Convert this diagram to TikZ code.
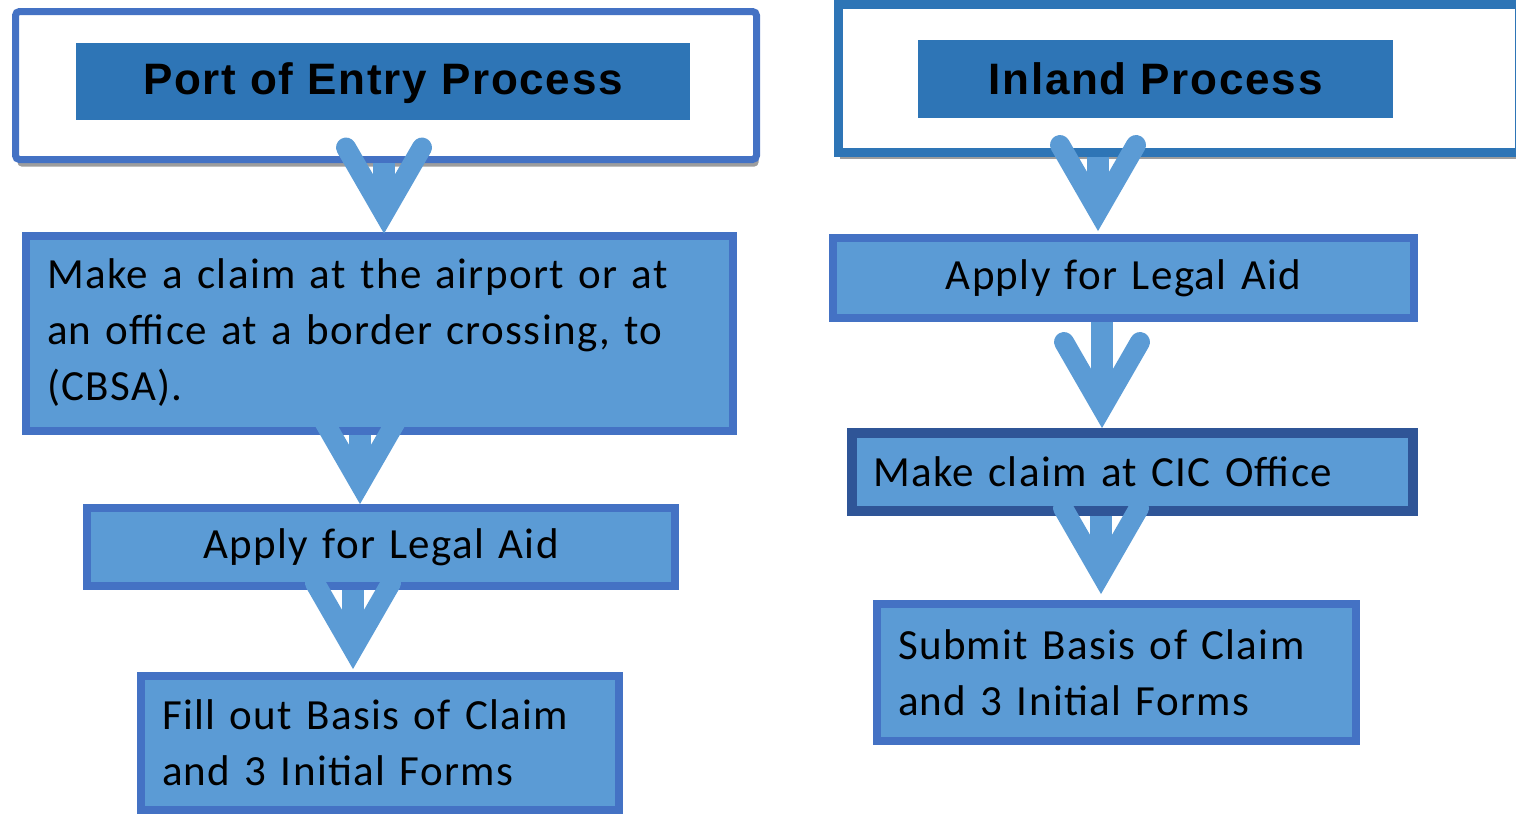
\documentclass[tikz,border=0pt]{standalone}
\usepackage{fontspec}
\setmainfont{Carlito}[LetterSpace=3.2]
\newfontfamily\titlefont{Liberation Sans}[LetterSpace=4]
\usetikzlibrary{calc,shadows}
\definecolor{stepfill}{HTML}{5B9BD5}
\definecolor{stepline}{HTML}{4472C4}
\definecolor{darkline}{HTML}{2F5597}
\definecolor{headfill}{HTML}{2E75B6}

\begin{document}
\begin{tikzpicture}[x=0.5pt,y=-0.5pt,
  frame/.style={fill=white, line width=3.5pt, drop shadow={shadow xshift=1pt, shadow yshift=-3.5pt, fill=black!70, opacity=0.55}},
  header/.style={fill=headfill, inner sep=0pt, font=\titlefont\bfseries\fontsize{22}{26}\selectfont},
  stepbox/.style={draw=stepline, fill=stepfill, line width=4pt, inner xsep=10.5pt, inner ysep=0pt, font=\fontsize{21.5}{28}\selectfont},
  shaft/.style={draw=stepfill, line width=11pt},
  chevron/.style={draw=stepfill, line width=10pt, line cap=round, line join=miter}]
\useasboundingbox (0,0) rectangle (1516,814);

% Headers
\node[frame, draw=stepline, rounded corners=2pt, minimum width=370.5pt, minimum height=74pt] (t1o) at (386,85.5) {};
\node[header, minimum width=307pt, minimum height=38.5pt, text height=18pt] (t1) at (383,81.5) {Port of Entry Process};
\node[frame, draw=headfill, line width=4.5pt, minimum width=340.5pt, minimum height=74pt] (t2o) at (1178.5,78) {};
\node[header, minimum width=237.5pt, minimum height=39pt] (t2) at (1155.5,79) {Inland Process};

% Port of entry steps
\node[stepbox, text width=332.5pt, minimum height=97.5pt, align=left] (b1) at (379.5,333) {Make a claim at the airport or at\\an office at a border crossing, to\\(CBSA).};
\node[stepbox, text width=273pt, minimum height=39pt, align=center] (b2) at (381,547) {Apply for Legal Aid};
\node[stepbox, text width=218pt, minimum height=67pt, align=left] (b3) at (380,743) {Fill out Basis of Claim\\and 3 Initial Forms};

% Inland steps
\node[stepbox, text width=269.5pt, minimum height=40pt, align=center] (r1) at (1123.5,278) {Apply for Legal Aid};
\node[stepbox, draw=darkline, line width=5pt, text width=259.5pt, minimum height=39pt, align=left] (r2) at (1132.5,472) {Make claim at CIC Office};
\node[stepbox, text width=218.5pt, minimum height=68.5pt, align=left] (r3) at (1116.5,672.5) {Submit Basis of Claim\\and 3 Initial Forms};

% Arrow tips
\coordinate (tipA) at ($(b1.north)+(4.5,4)$);
\coordinate (tipB) at ($(b2.north)+(-21,2)$);
\coordinate (tipC) at ($(b3.north)+(-27,-1)$);
\coordinate (tipD) at ($(r1.north)+(-25.5,-1)$);
\coordinate (tipE) at ($(r2.north)+(-30.5,2)$);
\coordinate (tipF) at ($(r3.north)+(-15.5,-4)$);

% Arrows
\foreach \from/\tip in {t1o/tipA, b1/tipB, b2/tipC, t2o/tipD, r1/tipE, r2/tipF} {
  \draw[shaft] (\from.south -| \tip) -- ($(\tip)+(0,-36)$);
  \draw[chevron] ($(\tip)+(-38,-88)$) -- ($(\tip)+(0,-22)$) -- ($(\tip)+(38,-88)$);
}
\end{tikzpicture}
\end{document}
